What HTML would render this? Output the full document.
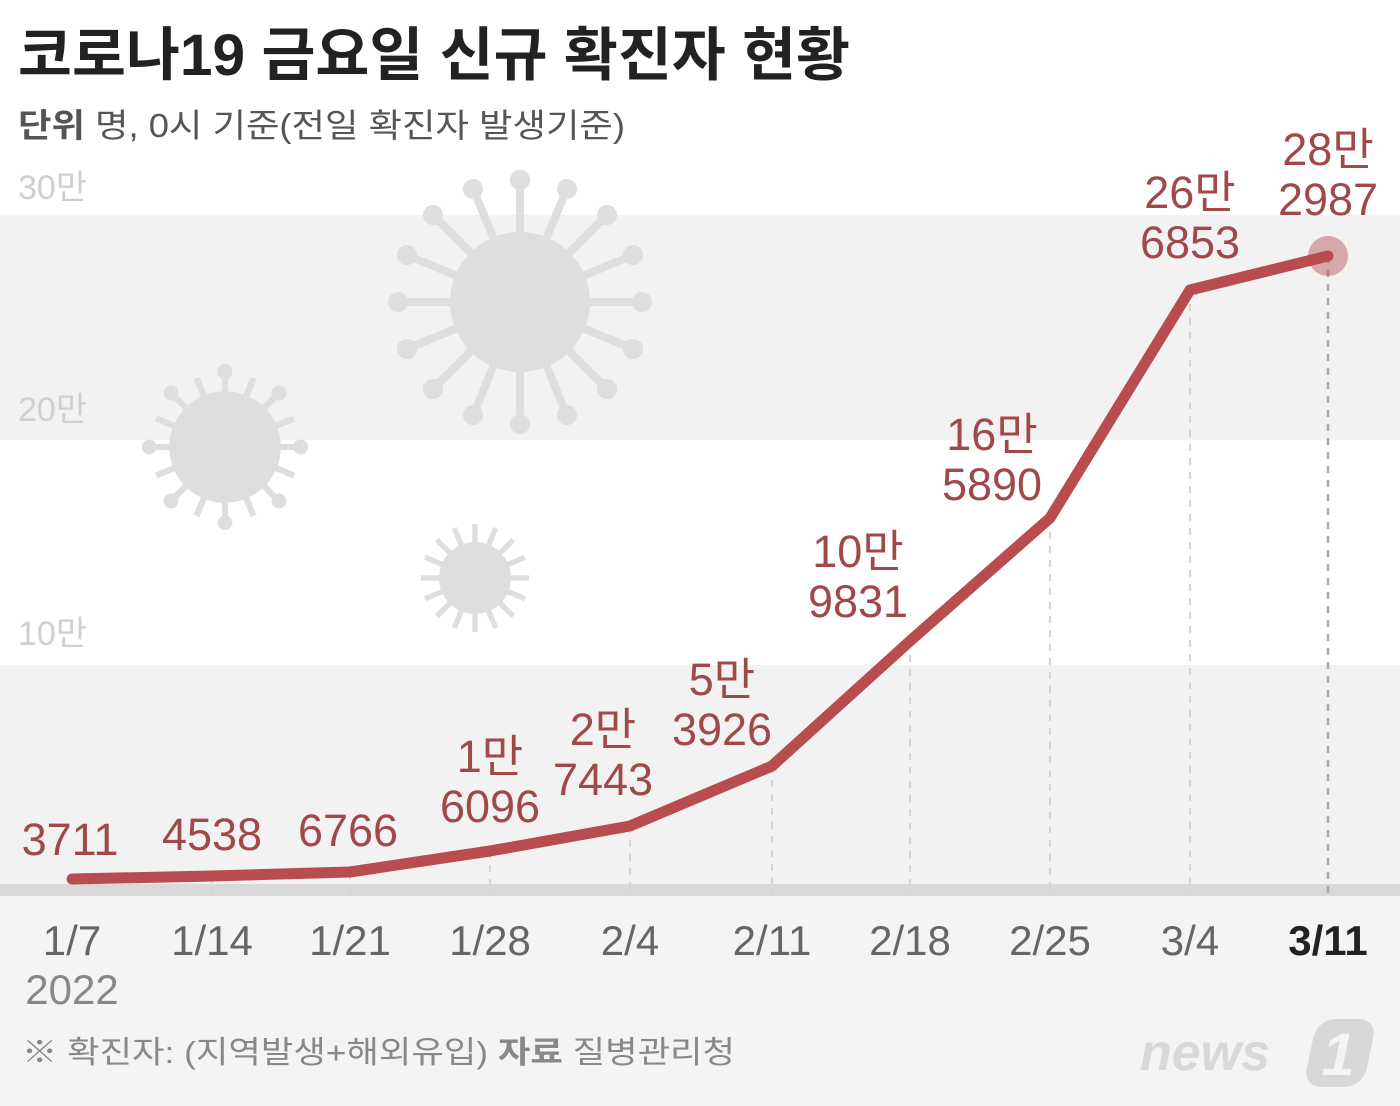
<!DOCTYPE html>
<html><head><meta charset="utf-8"><style>
body{margin:0;width:1400px;height:1106px;overflow:hidden;background:#fff;font-family:"Liberation Sans","Noto Sans CJK KR",sans-serif}
svg{display:block}
</style></head><body>
<svg width="1400" height="1106" viewBox="0 0 1400 1106" xmlns="http://www.w3.org/2000/svg" font-family="Liberation Sans Narrow, Liberation Sans, Noto Sans CJK KR, sans-serif">
<rect x="0" y="0" width="1400" height="1106" fill="#fff"/>
<rect x="0" y="215" width="1400" height="225" fill="#f2f2f2"/>
<rect x="0" y="665" width="1400" height="220" fill="#f2f2f2"/>
<rect x="0" y="896" width="1400" height="210" fill="#f4f4f4"/>
<rect x="0" y="884" width="1400" height="12" fill="#d9d9d9"/>
<g fill="#dedede" stroke="#dedede">
<g transform="translate(520,302)">
<circle r="70" stroke="none"/>
<g stroke-width="8">
<line x1="0" y1="0" x2="0" y2="-120"/><line x1="0" y1="0" x2="0" y2="120"/><line x1="0" y1="0" x2="120" y2="0"/><line x1="0" y1="0" x2="-120" y2="0"/>
<line x1="0" y1="0" x2="85" y2="85"/><line x1="0" y1="0" x2="-85" y2="85"/><line x1="0" y1="0" x2="85" y2="-85"/><line x1="0" y1="0" x2="-85" y2="-85"/>
<line x1="0" y1="0" x2="46" y2="-111"/><line x1="0" y1="0" x2="-46" y2="111"/><line x1="0" y1="0" x2="111" y2="46"/><line x1="0" y1="0" x2="-111" y2="-46"/>
<line x1="0" y1="0" x2="-46" y2="-111"/><line x1="0" y1="0" x2="46" y2="111"/><line x1="0" y1="0" x2="111" y2="-46"/><line x1="0" y1="0" x2="-111" y2="46"/>
</g>
<g stroke="none"><circle cx="0" cy="-122" r="10"/><circle cx="0" cy="122" r="10"/><circle cx="122" cy="0" r="10"/><circle cx="-122" cy="0" r="10"/><circle cx="87" cy="87" r="10"/><circle cx="-87" cy="87" r="10"/><circle cx="87" cy="-87" r="10"/><circle cx="-87" cy="-87" r="10"/><circle cx="47" cy="-113" r="10"/><circle cx="-47" cy="113" r="10"/><circle cx="113" cy="47" r="10"/><circle cx="-113" cy="-47" r="10"/><circle cx="-47" cy="-113" r="10"/><circle cx="47" cy="113" r="10"/><circle cx="113" cy="-47" r="10"/><circle cx="-113" cy="47" r="10"/></g>
</g>
<g transform="translate(225,447) scale(0.62)">
<circle r="90" stroke="none"/>
<g stroke-width="10">
<line x1="0" y1="0" x2="0" y2="-120"/><line x1="0" y1="0" x2="0" y2="120"/><line x1="0" y1="0" x2="120" y2="0"/><line x1="0" y1="0" x2="-120" y2="0"/>
<line x1="0" y1="0" x2="85" y2="85"/><line x1="0" y1="0" x2="-85" y2="85"/><line x1="0" y1="0" x2="85" y2="-85"/><line x1="0" y1="0" x2="-85" y2="-85"/>
<line x1="0" y1="0" x2="46" y2="-111"/><line x1="0" y1="0" x2="-46" y2="111"/><line x1="0" y1="0" x2="111" y2="46"/><line x1="0" y1="0" x2="-111" y2="-46"/>
<line x1="0" y1="0" x2="-46" y2="-111"/><line x1="0" y1="0" x2="46" y2="111"/><line x1="0" y1="0" x2="111" y2="-46"/><line x1="0" y1="0" x2="-111" y2="46"/>
</g>
<g stroke="none"><circle cx="0" cy="-122" r="12"/><circle cx="0" cy="122" r="12"/><circle cx="122" cy="0" r="12"/><circle cx="-122" cy="0" r="12"/><circle cx="87" cy="87" r="12"/><circle cx="-87" cy="87" r="12"/><circle cx="87" cy="-87" r="12"/><circle cx="-87" cy="-87" r="12"/></g>
</g>
<g transform="translate(475,578) scale(0.45)">
<circle r="80" stroke="none"/>
<g stroke-width="12">
<line x1="0" y1="0" x2="0" y2="-120"/><line x1="0" y1="0" x2="0" y2="120"/><line x1="0" y1="0" x2="120" y2="0"/><line x1="0" y1="0" x2="-120" y2="0"/>
<line x1="0" y1="0" x2="85" y2="85"/><line x1="0" y1="0" x2="-85" y2="85"/><line x1="0" y1="0" x2="85" y2="-85"/><line x1="0" y1="0" x2="-85" y2="-85"/>
<line x1="0" y1="0" x2="46" y2="-111"/><line x1="0" y1="0" x2="-46" y2="111"/><line x1="0" y1="0" x2="111" y2="46"/><line x1="0" y1="0" x2="-111" y2="-46"/>
<line x1="0" y1="0" x2="-46" y2="-111"/><line x1="0" y1="0" x2="46" y2="111"/><line x1="0" y1="0" x2="111" y2="-46"/><line x1="0" y1="0" x2="-111" y2="46"/>
</g>
</g>
</g>
<g stroke="#d4d4d4" stroke-width="2" stroke-dasharray="7,7">
<line x1="212" y1="876" x2="212" y2="896"/><line x1="350" y1="872" x2="350" y2="896"/><line x1="490" y1="851" x2="490" y2="896"/><line x1="630" y1="826" x2="630" y2="896"/><line x1="772" y1="766" x2="772" y2="896"/><line x1="910" y1="641" x2="910" y2="896"/><line x1="1050" y1="518" x2="1050" y2="896"/><line x1="1190" y1="290" x2="1190" y2="896"/>
</g>
<line x1="1328" y1="256" x2="1328" y2="896" stroke="#aaa" stroke-width="2.5" stroke-dasharray="7,7"/>
<g font-size="34" fill="#cfcfcf"><text x="18" y="199">30만</text><text x="18" y="421">20만</text><text x="18" y="645">10만</text></g>
<polyline points="72,879 212,876 350,872 490,851 630,826 772,766 910,641 1050,518 1190,290 1328,256" fill="none" stroke="#b84c4e" stroke-width="11" stroke-linejoin="round" stroke-linecap="round"/>
<circle cx="1328" cy="256" r="20" fill="#b84c4e" opacity="0.45"/>
<g font-size="45" fill="#a0484a" text-anchor="middle">
<text x="70" y="855">3711</text><text x="212" y="850">4538</text><text x="348" y="846">6766</text>
<text x="490" y="772">1만</text><text x="490" y="822">6096</text>
<text x="603" y="745">2만</text><text x="603" y="795">7443</text>
<text x="722" y="695">5만</text><text x="722" y="745">3926</text>
<text x="858" y="567">10만</text><text x="858" y="617">9831</text>
<text x="992" y="450">16만</text><text x="992" y="500">5890</text>
<text x="1190" y="208">26만</text><text x="1190" y="258">6853</text>
<text x="1328" y="165">28만</text><text x="1328" y="215">2987</text>
</g>
<g font-size="42" fill="#666" text-anchor="middle">
<text x="72" y="955">1/7</text><text x="212" y="955">1/14</text><text x="350" y="955">1/21</text><text x="490" y="955">1/28</text><text x="630" y="955">2/4</text><text x="772" y="955">2/11</text><text x="910" y="955">2/18</text><text x="1050" y="955">2/25</text><text x="1190" y="955">3/4</text>
<text x="1328" y="955" fill="#222" font-weight="bold">3/11</text>
<text x="72" y="1004" fill="#888">2022</text>
</g>
<text x="18" y="75" font-family="Liberation Sans, Noto Sans CJK KR, sans-serif" font-size="58" font-weight="bold" fill="#222" textLength="832" lengthAdjust="spacingAndGlyphs">코로나19 금요일 신규 확진자 현황</text>
<text x="18" y="137" font-family="Liberation Sans, Noto Sans CJK KR, sans-serif" font-size="33" fill="#555" textLength="607" lengthAdjust="spacingAndGlyphs"><tspan font-weight="bold">단위</tspan>  명, 0시 기준(전일 확진자 발생기준)</text>
<text x="22" y="1063" font-family="Liberation Sans, Noto Sans CJK KR, sans-serif" font-size="31" fill="#888" textLength="713" lengthAdjust="spacingAndGlyphs">※ 확진자: (지역발생+해외유입)  <tspan font-weight="bold">자료</tspan>  질병관리청</text>
<text x="1140" y="1070" font-family="Liberation Sans, sans-serif" font-size="52" font-weight="bold" font-style="italic" fill="#d8d8d8">news</text>
<g transform="translate(1340,1053) skewX(-12)"><rect x="-30" y="-34" width="60" height="68" rx="18" fill="#d8d8d8"/><text x="0" y="22" text-anchor="middle" font-size="60" font-weight="bold" fill="#f4f4f4">1</text></g>
</svg>
</body></html>
